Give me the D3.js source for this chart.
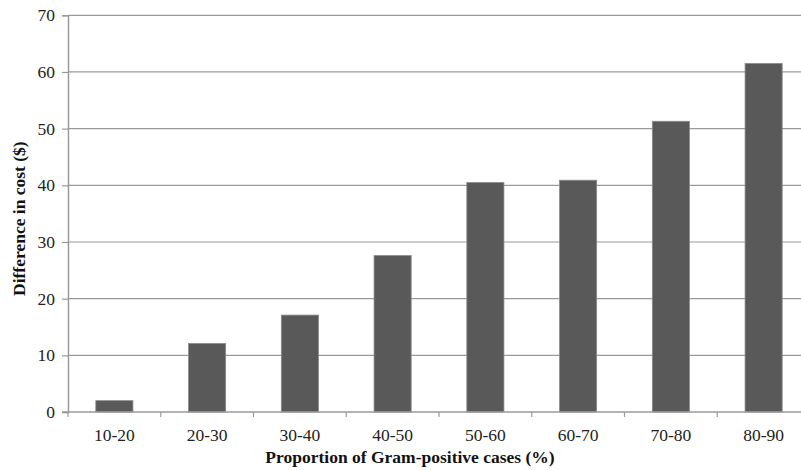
<!DOCTYPE html>
<html lang="en">
<head>
    <meta charset="UTF-8">
    <title>Difference in cost by proportion of Gram-positive cases</title>
    <script src="https://d3js.org/d3.v7.min.js"></script>
    <style>
        body { margin: 0; background: #fff; }
        svg { display: block; }
        .tick text { font-family: "Liberation Serif", "Times New Roman", serif; font-size: 17.5px; fill: #222; }
        .title { font-family: "Liberation Serif", "Times New Roman", serif; font-size: 17.5px; font-weight: bold; fill: #111; }
    </style>
</head>
<body>
<script>
    // categories and values
    var categories = ["10-20", "20-30", "30-40", "40-50", "50-60", "60-70", "70-80", "80-90"];
    var costDiff = [2.0, 12.1, 17.1, 27.6, 40.5, 40.9, 51.3, 61.5];
    var yTicks = [0, 10, 20, 30, 40, 50, 60, 70];

    var width = 801, height = 470;
    var plotLeft = 68, plotTop = 15.3, plotBottom = 412, plotRight = 810;

    var svg = d3.select("body").append("svg")
        .attr("width", width)
        .attr("height", height);

    var x = d3.scaleBand()
        .domain(categories)
        .range([plotLeft, plotRight])
        .paddingInner(0.6)
        .paddingOuter(0.3);

    var y = d3.scaleLinear()
        .domain([0, 70])
        .range([plotBottom, plotTop]);

    // gridlines
    svg.append("g")
        .selectAll("line")
        .data(yTicks.filter(function(d) { return d > 0; }))
        .enter().append("line")
        .attr("x1", plotLeft).attr("x2", width)
        .attr("y1", function(d) { return y(d); })
        .attr("y2", function(d) { return y(d); })
        .attr("stroke", "#9a9a9a")
        .attr("stroke-width", 1.2);

    // bars
    svg.append("g")
        .selectAll("rect")
        .data(costDiff)
        .enter().append("rect")
        .attr("x", function(d, i) { return x(categories[i]); })
        .attr("y", function(d) { return y(d); })
        .attr("width", x.bandwidth())
        .attr("height", function(d) { return y(0) - y(d); })
        .attr("fill", "#595959")
        .attr("stroke", "#8a8a8a")
        .attr("stroke-width", 0.8);

    // y axis
    var yAxis = svg.append("g")
        .attr("transform", "translate(" + plotLeft + ",0)")
        .call(d3.axisLeft(y).tickValues(yTicks).tickSize(6).tickPadding(7));
    yAxis.select(".domain").attr("stroke", "#9a9a9a").attr("stroke-width", 1.5);
    yAxis.selectAll(".tick line").attr("stroke", "#9a9a9a").attr("stroke-width", 1.2);

    // x axis with ticks at band boundaries
    var bx = d3.scaleLinear().domain([0, categories.length]).range([plotLeft, plotRight]);
    var xAxis = svg.append("g")
        .attr("transform", "translate(0," + plotBottom + ")");
    xAxis.append("line")
        .attr("x1", plotLeft - 6).attr("x2", width)
        .attr("stroke", "#9a9a9a").attr("stroke-width", 1.5);
    xAxis.selectAll(".bt")
        .data(d3.range(categories.length + 1))
        .enter().append("line")
        .attr("class", "bt")
        .attr("x1", function(d) { return bx(d); })
        .attr("x2", function(d) { return bx(d); })
        .attr("y1", 0).attr("y2", 5)
        .attr("stroke", "#9a9a9a").attr("stroke-width", 1.2);
    xAxis.selectAll(".tick")
        .data(categories)
        .enter().append("g")
        .attr("class", "tick")
        .append("text")
        .attr("x", function(d) { return x(d) + x.bandwidth() / 2; })
        .attr("y", 29)
        .attr("text-anchor", "middle")
        .text(function(d) { return d; });

    // axis titles
    svg.append("text")
        .attr("class", "title")
        .attr("x", 410)
        .attr("y", 463)
        .attr("text-anchor", "middle")
        .text("Proportion of Gram-positive cases (%)");

    svg.append("text")
        .attr("class", "title")
        .attr("transform", "translate(25," + ((plotTop + plotBottom) / 2 + 5) + ") rotate(-90)")
        .attr("text-anchor", "middle")
        .text("Difference in cost ($)");
</script>
</body>
</html>
